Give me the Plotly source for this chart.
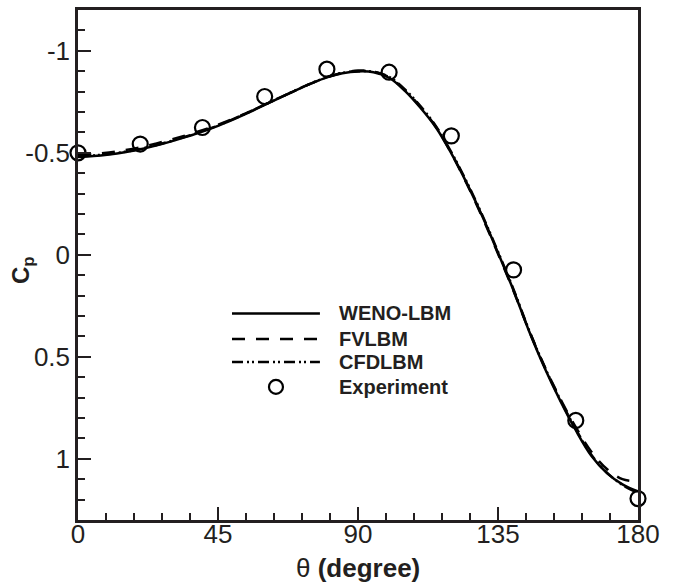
import plotly.graph_objects as go

# ---------------- data ----------------
theta = [0, 5, 10, 15, 20, 25, 30, 35, 40, 45, 50, 55, 60, 65, 70, 75, 80, 85, 90,
         95, 100, 105, 110, 115, 120, 125, 130, 135, 140, 145, 150, 155, 160, 165,
         170, 175, 180]

cp_weno = [-0.480, -0.484, -0.492, -0.503, -0.517, -0.535, -0.556, -0.579, -0.604,
           -0.632, -0.664, -0.698, -0.735, -0.771, -0.806, -0.840, -0.870, -0.890,
           -0.899, -0.895, -0.868, -0.805, -0.722, -0.625, -0.497, -0.350, -0.188,
           -0.010, 0.175, 0.375, 0.555, 0.715, 0.860, 0.985, 1.070, 1.125, 1.160]

cp_fvlbm = [-0.490, -0.494, -0.502, -0.513, -0.527, -0.545, -0.565, -0.587, -0.611,
            -0.638, -0.668, -0.701, -0.736, -0.771, -0.806, -0.840, -0.870, -0.892,
            -0.903, -0.898, -0.870, -0.808, -0.726, -0.628, -0.498, -0.347, -0.183,
            -0.005, 0.178, 0.372, 0.548, 0.705, 0.845, 0.965, 1.050, 1.100, 1.110]

cp_cfdlbm = [-0.483, -0.487, -0.494, -0.505, -0.519, -0.537, -0.558, -0.581, -0.606,
             -0.634, -0.666, -0.700, -0.736, -0.772, -0.807, -0.841, -0.871, -0.892,
             -0.900, -0.897, -0.872, -0.812, -0.730, -0.632, -0.503, -0.356, -0.193,
             -0.015, 0.170, 0.370, 0.550, 0.710, 0.855, 0.980, 1.068, 1.128, 1.168]

theta_exp = [0, 20, 40, 60, 80, 100, 120, 140, 160, 180]
cp_exp = [-0.50, -0.543, -0.624, -0.776, -0.910, -0.895, -0.583, 0.074, 0.812, 1.195]

x_ticks = [0, 45, 90, 135, 180]
y_ticks = [-1, -0.5, 0, 0.5, 1]
y_ticktext = ["-1", "-0.5", "0", "0.5", "1"]

series_names = ["WENO-LBM", "FVLBM", "CFDLBM", "Experiment"]
x_title = "θ <b>(degree)</b>"
y_title = "<b>C<sub>p</sub></b>"

# ---------------- styles ----------------
FONT = "Liberation Sans, Arial, Helvetica, sans-serif"
INK = "#231f20"
dash_fv = "13px,11px"
dash_cfd = "11px,4px,2px,3px,2px,4px"
LW = 2.5

fig = go.Figure()
fig.add_trace(go.Scatter(x=theta, y=cp_weno, mode="lines", name=series_names[0],
                         line=dict(color="black", width=LW, shape="spline"),
                         showlegend=False))
fig.add_trace(go.Scatter(x=theta, y=cp_fvlbm, mode="lines", name=series_names[1],
                         line=dict(color="black", width=LW, dash=dash_fv, shape="spline"),
                         showlegend=False))
fig.add_trace(go.Scatter(x=theta, y=cp_cfdlbm, mode="lines", name=series_names[2],
                         line=dict(color="black", width=LW, dash=dash_cfd, shape="spline"),
                         showlegend=False))
fig.add_trace(go.Scatter(x=theta_exp, y=cp_exp, mode="markers", name=series_names[3],
                         marker=dict(symbol="circle-open", size=15, color="black",
                                     line=dict(width=2.2, color="black")),
                         cliponaxis=False, showlegend=False))

# ---------------- custom legend (paper coords) ----------------
leg_x0, leg_x1, leg_tx = 0.275, 0.432, 0.462
leg_rows = [0.405, 0.355, 0.310, 0.261]
dashes = ["solid", dash_fv, dash_cfd]
shapes = []
for i in range(3):
    shapes.append(dict(type="line", xref="paper", yref="paper",
                       x0=leg_x0, x1=leg_x1, y0=leg_rows[i], y1=leg_rows[i],
                       line=dict(color="black", width=LW, dash=dashes[i])))
shapes.append(dict(type="circle", xref="paper", yref="paper",
                   xsizemode="pixel", ysizemode="pixel",
                   xanchor=(leg_x0 + leg_x1) / 2, yanchor=leg_rows[3],
                   x0=-7, x1=7, y0=-7, y1=7,
                   line=dict(color="black", width=2.2)))
annotations = []
for i, nm in enumerate(series_names):
    annotations.append(dict(xref="paper", yref="paper", x=leg_tx, y=leg_rows[i],
                            xanchor="left", yanchor="middle", showarrow=False,
                            text="<b>" + nm + "</b>",
                            font=dict(family=FONT, size=20, color=INK)))

# axis titles as annotations for precise placement
annotations.append(dict(xref="paper", yref="paper", x=0.5, y=-0.095,
                        xanchor="center", yanchor="middle", showarrow=False,
                        text=x_title, font=dict(family=FONT, size=26, color=INK)))
annotations.append(dict(xref="paper", yref="paper", x=-0.1, y=0.49,
                        xanchor="center", yanchor="middle", showarrow=False,
                        textangle=-90,
                        text=y_title, font=dict(family=FONT, size=24, color=INK)))

fig.update_layout(
    width=674, height=584,
    margin=dict(l=78, r=36, t=10, b=64, autoexpand=False),
    paper_bgcolor="white", plot_bgcolor="white",
    font=dict(family=FONT, color=INK),
    shapes=shapes, annotations=annotations,
    showlegend=False,
)

fig.update_xaxes(
    range=[0, 180], tickvals=x_ticks, ticktext=[str(v) for v in x_ticks],
    showgrid=False, zeroline=False,
    showline=True, mirror=True, linecolor=INK, linewidth=2.5,
    ticks="inside", ticklen=13, tickwidth=2, tickcolor=INK,
    minor=dict(tickmode="linear", tick0=0, dtick=9, ticks="inside", ticklen=7,
               tickwidth=1.5, tickcolor=INK, showgrid=False),
    tickfont=dict(family=FONT, size=26, color=INK),
    ticklabelstandoff=-11,
)
fig.update_yaxes(
    range=[1.3, -1.2], tickvals=y_ticks, ticktext=y_ticktext,
    showgrid=False, zeroline=False,
    showline=True, mirror=True, linecolor=INK, linewidth=2.5,
    ticks="inside", ticklen=13, tickwidth=2, tickcolor=INK,
    minor=dict(tickmode="linear", tick0=0, dtick=0.1, ticks="inside", ticklen=7,
               tickwidth=1.5, tickcolor=INK, showgrid=False),
    tickfont=dict(family=FONT, size=26, color=INK),
    ticklabelstandoff=0,
)

fig.write_html("out.html")
